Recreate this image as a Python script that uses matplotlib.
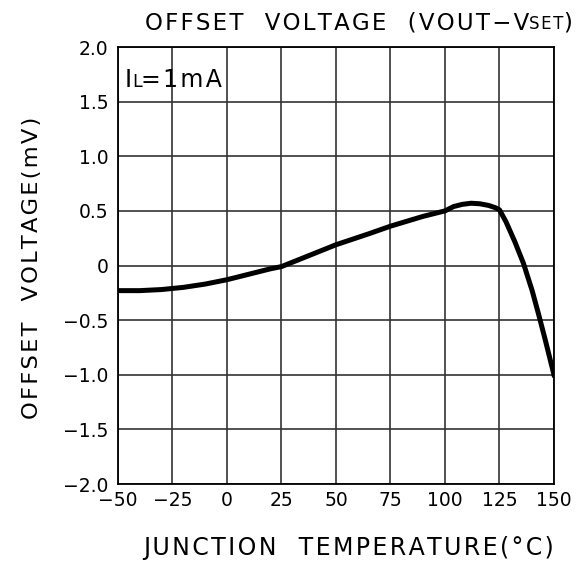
import matplotlib
matplotlib.use("Agg")
import matplotlib.pyplot as plt
from matplotlib.transforms import offset_copy

# data
temp = [-50, -40, -30, -20, -10, 0, 10, 20, 25, 35, 50, 65, 75, 90, 100,
        104, 108, 112, 116, 120, 123, 125, 128, 132, 136, 140, 143, 146, 148, 150]
offset = [-0.23, -0.23, -0.22, -0.20, -0.17, -0.13, -0.08, -0.03, -0.01, 0.07, 0.19, 0.29, 0.36, 0.45, 0.50,
          0.54, 0.56, 0.57, 0.565, 0.55, 0.53, 0.51, 0.40, 0.22, 0.02, -0.23, -0.45, -0.68, -0.84, -1.0]

x_ticks = [-50, -25, 0, 25, 50, 75, 100, 125, 150]
y_ticks = [2.0, 1.5, 1.0, 0.5, 0.0, -0.5, -1.0, -1.5, -2.0]
y_labels = ["2.0", "1.5", "1.0", "0.5", "0", "\u22120.5", "\u22121.0", "\u22121.5", "\u22122.0"]
x_labels = ["\u221250", "\u221225", "0", "25", "50", "75", "100", "125", "150"]

plt.rcParams["font.family"] = ["DejaVu Sans"]


def spaced(s, gap="\u200a"):
    # loose letter spacing like the drafting font of the original
    return gap.join(s)


fig = plt.figure(figsize=(5.8, 5.63), dpi=100)
ax = fig.add_axes([0.2034, 0.1403, 0.7517, 0.7762])

ax.plot(temp, offset, color="black", lw=3.6, solid_joinstyle="round", zorder=3)

ax.set_xlim(-50, 150)
ax.set_ylim(-2.0, 2.0)
ax.set_xticks(x_ticks)
ax.set_xticklabels(x_labels, fontsize=13.5)
ax.set_yticks(y_ticks)
ax.set_yticklabels(y_labels, fontsize=13.5)
ax.tick_params(axis="x", length=0, pad=5)
ax.tick_params(axis="y", length=0, pad=7)
for lab in ax.get_yticklabels():
    lab.set_verticalalignment("center_baseline")
ax.grid(True, color="#333333", lw=1.2)
for s in ax.spines.values():
    s.set_linewidth(1.3)
    s.set_color("black")

ax.set_xlabel(spaced("JUNCTION  TEMPERATURE(\u00b0C)"), fontsize=17)
ax.xaxis.set_label_coords(0.528, -0.12)
ax.set_ylabel(spaced("OFFSET  VOLTAGE(mV)"), fontsize=16.2)
ax.yaxis.set_label_coords(-0.175, 0.494)


def chain_text(fig, x, y, parts, transform):
    # draw text pieces one after another, each with its own size
    renderer = fig.canvas.get_renderer()
    t = transform
    for txt, size in parts:
        obj = fig.text(x, y, txt, fontsize=size, transform=t, ha="left", va="baseline")
        w = obj.get_window_extent(renderer=renderer).width
        t = offset_copy(obj.get_transform(), fig=fig, x=w, units="dots")


chain_text(fig, 0.25, 0.948,
           [(spaced("OFFSET  VOLTAGE  (VOUT\u2212V"), 16.5), (spaced("SET"), 12), (")", 16.5)],
           fig.transFigure)
chain_text(fig, 0.215, 0.845,
           [("I", 17), ("L", 12.5), (spaced("=1mA"), 17)],
           fig.transFigure)

fig.savefig("out.png", dpi=100)
